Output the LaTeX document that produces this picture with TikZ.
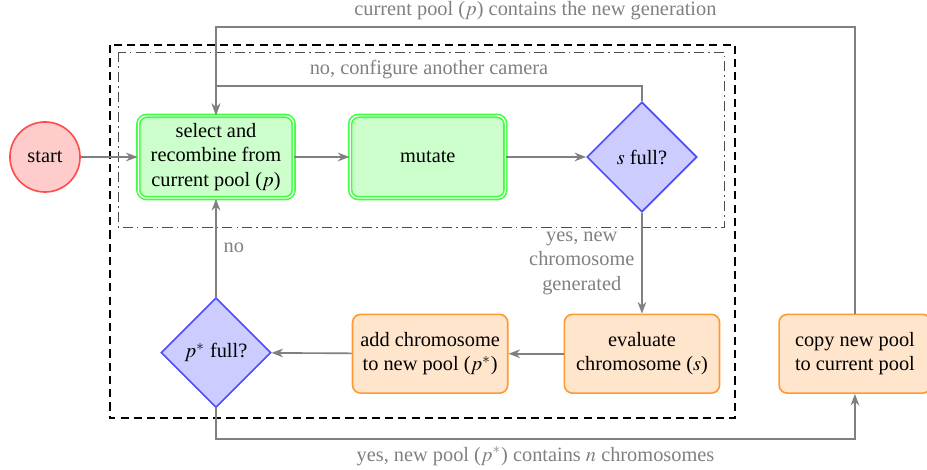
\documentclass[tikz,border=0pt]{standalone}
\usepackage{mathptmx}
\usepackage{fontspec}
\setmainfont{Liberation Serif}
\usepackage{tikz}
\usetikzlibrary{arrows.meta,positioning,shapes.geometric,calc}
\tikzset{
  startnode/.style={circle, draw=red!70, fill=red!20, thick, minimum size=1.21cm, inner sep=1pt},
  gablock/.style={rectangle, rounded corners=4pt, draw=green!75, fill=green!20,
                  double=white, double distance=0.6pt, line width=0.8pt,
                  align=center, minimum width=2.68cm, minimum height=1.42cm, inner sep=3pt},
  task/.style={rectangle, rounded corners=4pt, draw=orange!80, fill=orange!20, thick,
               align=center, minimum width=2.68cm, minimum height=1.36cm, inner sep=3pt},
  decision/.style={diamond, aspect=1, draw=blue!70, fill=blue!20, thick,
                   minimum width=1.9cm, minimum height=1.9cm, inner sep=1pt},
  flow/.style={-{Stealth[length=2mm]}, draw=gray, thick},
  lbl/.style={text=gray},
}

\begin{document}
\begin{tikzpicture}
\useasboundingbox (-0.777,2.711) rectangle (15.232,-5.389);

% one generation: inner camera loop and outer pool loop
\draw[dash pattern=on 5pt off 2pt on 0.8pt off 2pt, black!70] (1.26,1.81) rectangle (11.74,-1.21);
\draw[very thick, dash pattern=on 4pt off 2.5pt] (1.12,1.93) rectangle (11.92,-4.51);

\node[startnode] (start) at (0,0) {start};
\node[gablock] (select) [right=0.98cm of start] {select and\\recombine from\\current pool ($p$)};
\node[gablock] (mutate) [right=0.95cm of select] {mutate};
\node[decision] (sfull) [right=1.38cm of mutate] {$s$ full?};
\node[task] (eval) [below=1.74cm of sfull] {evaluate\\chromosome ($s$)};
\node[task] (add) [left=0.95cm of eval] {add chromosome\\to new pool ($p^*$)};
\node[decision] (pfull) [below=1.69cm of select] {$p^*$ full?};
\node[task, minimum width=2.62cm] (copy) [right=1.0cm of eval] {copy new pool\\to current pool};

\draw[flow] (start) -- (select);
\draw[flow] (select) -- (mutate);
\draw[flow] (mutate) -- (sfull);
\draw[flow] (sfull) -- node[lbl, left, align=center] {yes, new\\chromosome\\generated} (eval);
\draw[flow] (eval) -- (add);
\draw[flow] (add) -- (pfull);
\draw[flow] (pfull) -- node[lbl, right] {no} (select);
\draw[flow] (sfull.north) |- node[lbl, pos=0.75, above] {no, configure another camera}
  ($(select.north)+(0,0.5)$) -- (select.north);
\draw[flow] (copy.north) |- node[lbl, pos=0.75, above] {current pool ($p$) contains the new generation}
  ($(select.north)+(0,1.52)$) -- (select.north);
\draw[flow] (pfull.south) |- node[lbl, pos=0.75, below] {yes, new pool ($p^*$) contains $n$ chromosomes}
  ($(copy.south)+(0,-0.78)$) -- (copy.south);
\end{tikzpicture}
\end{document}
